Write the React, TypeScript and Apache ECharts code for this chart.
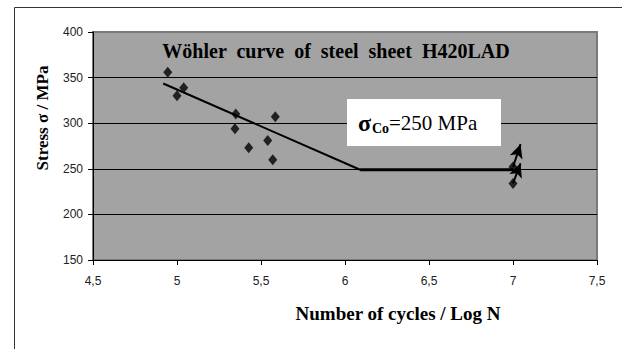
import React, { useEffect, useRef } from "react";
import * as echarts from "echarts";

// Test data: log N vs stress (MPa)
const logN = [4.945, 5.0, 5.04, 5.35, 5.345, 5.427, 5.54, 5.585, 5.57, 7.0, 7.0];
const stress = [356, 330, 339, 310, 294, 273, 281, 307, 260, 234, 252];

// Regression (finite life) line and fatigue limit line
const regressionX = [4.918, 6.09];
const regressionY = [343.5, 249];
const limitX = [6.09, 7.0];
const limitY = [249, 249];

// Run-out arrows (start -> end)
const runoutStartX = [7.0, 7.0];
const runoutStartY = [234, 252];
const runoutEndX = [7.045, 7.045];
const runoutEndY = [256, 277];

const yTicks = [150, 200, 250, 300, 350, 400];
const xMin = 4.5, xMax = 7.5, xStep = 0.5;

const titleText = "Wöhler  curve  of  steel  sheet  H420LAD";
const xName = "Number of cycles / Log N";
const yName = "Stress σ / MPa";

export default function App() {
  const ref = useRef<HTMLDivElement>(null);
  useEffect(() => {
    const chart = echarts.init(ref.current!, null, { renderer: "svg" });
    const serif = "Liberation Serif";
    const sans = "Liberation Sans";
    chart.setOption({
      animation: false,
      grid: {
        left: 93, right: 25, top: 32, bottom: 89,
        show: true, backgroundColor: "#a3a3a3", borderColor: "#7a7a7a", borderWidth: 2,
      },
      xAxis: {
        type: "value", min: xMin, max: xMax, interval: xStep,
        axisLine: { show: true, onZero: false, lineStyle: { color: "#000", width: 1 } },
        axisTick: { show: true, length: 5, lineStyle: { color: "#000" } },
        axisLabel: {
          margin: 15, color: "#222", fontFamily: sans, fontSize: 12,
          formatter: (v: number) => String(v).replace(".", ","),
        },
        splitLine: { show: false },
      },
      yAxis: {
        type: "value", min: yTicks[0], max: yTicks[yTicks.length - 1], interval: 50,
        axisLine: { show: true, lineStyle: { color: "#000", width: 1 } },
        axisTick: { show: true, length: 5, lineStyle: { color: "#000" } },
        axisLabel: { margin: 10, color: "#222", fontFamily: sans, fontSize: 12 },
        splitLine: {
          show: true,
          lineStyle: { color: yTicks.map((t, i) => (i === yTicks.length - 1 ? "#7a7a7a" : "#000")), width: 1 },
        },
      },
      series: [
        {
          type: "line",
          data: regressionX.map((x, i) => [x, regressionY[i]]),
          symbol: "none",
          lineStyle: { color: "#000", width: 2 },
          z: 3,
        },
        {
          type: "line",
          data: limitX.map((x, i) => [x, limitY[i]]),
          symbol: "none",
          lineStyle: { color: "#000", width: 3 },
          z: 3,
        },
        {
          type: "scatter",
          data: logN.map((x, i) => [x, stress[i]]),
          symbol: "diamond",
          symbolSize: [9, 11],
          itemStyle: { color: "#000" },
          z: 4,
          markLine: {
            silent: true,
            symbol: ["none", "arrow"],
            symbolSize: [10, 14],
            label: { show: false },
            lineStyle: { color: "#000", width: 2, type: "solid" },
            data: runoutStartX.map((x, i) => [
              { coord: [x, runoutStartY[i]] },
              { coord: [runoutEndX[i], runoutEndY[i]] },
            ]),
          },
        },
      ],
      graphic: [
        {
          type: "rect", left: 12, top: 5, z: -10,
          shape: { width: 640, height: 343 },
          style: { fill: "none", stroke: "#333", lineWidth: 1 },
        },
        {
          type: "text", x: 336, y: 51, z: 10,
          style: {
            text: titleText, fontFamily: serif, fontWeight: "bold", fontSize: 20,
            fill: "#000", align: "center", verticalAlign: "middle",
          },
        },
        {
          type: "rect", x: 347, y: 99, z: 10,
          shape: { width: 154, height: 47 },
          style: { fill: "#fff", stroke: "none" },
        },
        {
          type: "text", x: 358, y: 123, z: 11,
          style: {
            text: "σ", fontFamily: serif, fontWeight: "bold", fontSize: 24,
            fill: "#000", align: "left", verticalAlign: "middle",
          },
        },
        {
          type: "text", x: 372, y: 128, z: 11,
          style: {
            text: "Co", fontFamily: serif, fontWeight: "bold", fontSize: 14,
            fill: "#000", align: "left", verticalAlign: "middle",
          },
        },
        {
          type: "text", x: 389, y: 123, z: 11,
          style: {
            text: "=250 MPa", fontFamily: "serif", fontSize: 21,
            fill: "#000", align: "left", verticalAlign: "middle",
          },
        },
        {
          type: "text", x: 42, y: 118, rotation: Math.PI / 2, z: 10,
          style: {
            text: yName, fontFamily: serif, fontWeight: "bold", fontSize: 17,
            fill: "#000", align: "center", verticalAlign: "middle",
          },
        },
        {
          type: "text", x: 398, y: 313, z: 10,
          style: {
            text: xName, fontFamily: serif, fontWeight: "bold", fontSize: 19,
            fill: "#000", align: "center", verticalAlign: "middle",
          },
        },
      ],
    });
    return () => chart.dispose();
  }, []);
  return (
    <div
      ref={ref}
      style={{ position: "fixed", left: 0, top: 0, width: 622, height: 349, background: "#fff" }}
    />
  );
}
